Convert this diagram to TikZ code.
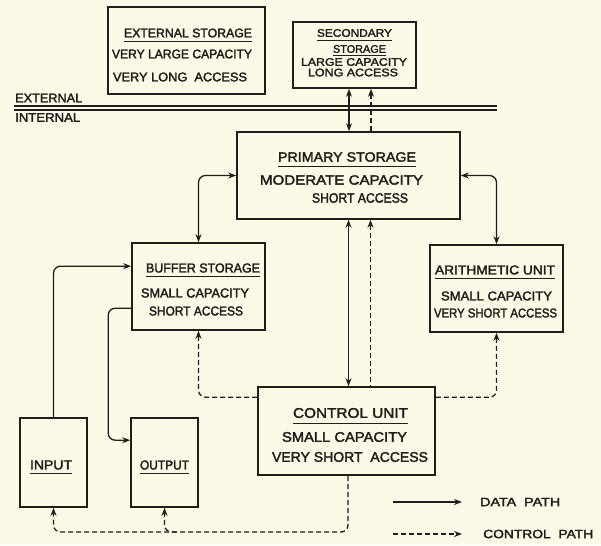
\documentclass[tikz,border=0pt]{standalone}
\usepackage{fontspec}
\setmainfont{Liberation Sans}[FakeBold=2.2]
\usetikzlibrary{arrows.meta,calc}
\definecolor{paper}{RGB}{252,249,231}
\definecolor{ink}{RGB}{32,29,27}
\newcommand\fw[2]{\resizebox{#1pt}{\height}{#2}}
\newcommand\fsz[1]{\fontsize{#1}{#1}\selectfont}
\begin{document}
\begin{tikzpicture}[x=1pt,y=-1pt,
  >={Stealth[length=8pt,width=6pt]},
  box/.style={draw=ink,line width=1.6pt,inner sep=0pt},
  txt/.style={inner sep=0pt,text=ink},
  ul/.style={append after command={([yshift=-#1]\tikzlastnode.south west) edge[draw=ink,line width=1pt] ([yshift=-#1]\tikzlastnode.south east)}},
  ul/.default=4pt,
  data/.style={draw=ink,line width=1.3pt,rounded corners=7pt},
  ctrl/.style={data,dash pattern=on 5pt off 3pt}]
\fill[paper] (0,0) rectangle (601,545);
\useasboundingbox (0,0) rectangle (601,545);

% boxes
\node[box,minimum width=157pt,minimum height=87pt] (ext) at (186.5,50.5) {};
\node[box,minimum width=123pt,minimum height=66pt] (sec) at (354.5,55) {};
\node[box,minimum width=223pt,minimum height=87pt] (prim) at (348.5,175.5) {};
\node[box,minimum width=133pt,minimum height=87pt] (buf) at (198.5,286.5) {};
\node[box,minimum width=133pt,minimum height=87pt] (arith) at (496.5,288.5) {};
\node[box,minimum width=177pt,minimum height=88pt] (ctl) at (346.5,431) {};
\node[box,minimum width=67pt,minimum height=89pt] (in) at (53.5,462.5) {};
\node[box,minimum width=67pt,minimum height=89pt] (out) at (164.5,462.5) {};

% texts
\node[txt,font=\fsz{12.5},ul] (e1) at (188,33) {\fw{128}{EXTERNAL STORAGE}};
\node[txt,font=\fsz{12.5}] (e2) at (182,54) {\fw{140}{VERY LARGE CAPACITY}};
\node[txt,font=\fsz{12.5}] (e3) at (180,77) {\fw{134}{VERY LONG\ \ ACCESS}};

\node[txt,font=\fsz{11},ul=3pt] (s1) at (354.5,33) {\fw{75}{SECONDARY}};
\node[txt,font=\fsz{11},ul=2.5pt] (s2) at (359.5,49) {\fw{53}{STORAGE}};
\node[txt,font=\fsz{11}] (s3) at (354,62) {\fw{106}{LARGE CAPACITY}};
\node[txt,font=\fsz{11}] (s4) at (353,72.5) {\fw{90}{LONG ACCESS}};

\node[txt,font=\fsz{13.5},ul=5pt] (p1) at (347,157) {\fw{138}{PRIMARY STORAGE}};
\node[txt,font=\fsz{13.5}] (p2) at (341.5,180) {\fw{163}{MODERATE CAPACITY}};
\node[txt,font=\fsz{13.5}] (p3) at (360,198) {\fw{96}{SHORT ACCESS}};

\node[txt,font=\fsz{13},ul] (b1) at (203,268) {\fw{114}{BUFFER STORAGE}};
\node[txt,font=\fsz{13}] (b2) at (195,293) {\fw{108}{SMALL CAPACITY}};
\node[txt,font=\fsz{13}] (b3) at (196,311) {\fw{94}{SHORT ACCESS}};

\node[txt,font=\fsz{12.8},ul] (a1) at (495,270) {\fw{120}{ARITHMETIC UNIT}};
\node[txt,font=\fsz{12.8}] (a2) at (496.5,296) {\fw{111}{SMALL CAPACITY}};
\node[txt,font=\fsz{12.8}] (a3) at (495.5,313) {\fw{123}{VERY SHORT ACCESS}};

\node[txt,font=\fsz{14},ul=5pt] (c1) at (350.5,413) {\fw{115}{CONTROL UNIT}};
\node[txt,font=\fsz{14}] (c2) at (344.5,437) {\fw{125}{SMALL CAPACITY}};
\node[txt,font=\fsz{14}] (c3) at (350,457) {\fw{156}{VERY SHORT\ \ ACCESS}};

\node[txt,font=\fsz{13},ul] (i1) at (51,465) {\fw{42}{INPUT}};
\node[txt,font=\fsz{13},ul] (o1) at (164.5,465) {\fw{49}{OUTPUT}};

\node[txt,font=\fsz{12},anchor=west] (l1) at (480,502) {\fw{80}{DATA\ \ PATH}};
\node[txt,font=\fsz{12},anchor=west] (l2) at (483,534) {\fw{110}{CONTROL\ \ PATH}};

\node[txt,font=\fsz{12.5},anchor=west] (x1) at (15,98) {\fw{67}{EXTERNAL}};
\node[txt,font=\fsz{12.5},anchor=west] (x2) at (15,117.5) {\fw{65}{INTERNAL}};

% external / internal double line
\coordinate (d1) at (14,106);
\coordinate (d2) at (497,106);
\coordinate (d3) at (14,110);
\coordinate (d4) at (497,110);
\draw[ink,line width=1.9pt] (d1) -- (d2);
\draw[ink,line width=1.2pt] (d3) -- (d4);

% primary <-> secondary
\coordinate (pn1) at ([xshift=0.5pt]prim.north);
\coordinate (pn2) at ([xshift=22.5pt]prim.north);
\draw[data,<->] (pn1) -- (pn1 |- sec.south);
\draw[ctrl,->] (pn2) -- (pn2 |- sec.south);

% primary <-> buffer / arithmetic
\draw[data,<->] (prim.west) -| (buf.north);
\draw[data,<->] (prim.east) -| (arith.north);

% primary <-> control
\coordinate (ps1) at (prim.south);
\coordinate (ps2) at ([xshift=22pt]prim.south);
\draw[data,<->] (ps1) -- (ps1 |- ctl.north);
\draw[ctrl,<-] (ps2) -- (ps2 |- ctl.north);

% control -> buffer / arithmetic
\draw[ctrl,->] ([yshift=-11pt]ctl.north west) -| (buf.south);
\draw[ctrl,->] ([yshift=-11pt]ctl.north east) -| (arith.south);

% control -> input / output
\coordinate (cs) at ([xshift=1.5pt]ctl.south);
\coordinate (bot) at (0,532);
\draw[ctrl,->] (cs) |- (in.south |- bot) -- (in.south);
\coordinate (ob) at ($(out.south |- bot)+(12,0)$);
\draw[ctrl,->] (ob) -| (out.south);

% input -> buffer, buffer -> output
\draw[data,->] (in.north) |- ([yshift=-24pt]buf.north west);
\coordinate (bo) at ([yshift=-66pt]buf.north west);
\draw[data,->] (bo) -- ++(-23,0) |- ([yshift=-23pt]out.north west);

% legend
\coordinate (la1) at (393,502);
\coordinate (la2) at (462,502);
\coordinate (lb1) at (393,534);
\coordinate (lb2) at (462,534);
\draw[data,->] (la1) -- (la2);
\draw[ctrl,->] (lb1) -- (lb2);
\end{tikzpicture}
\end{document}
